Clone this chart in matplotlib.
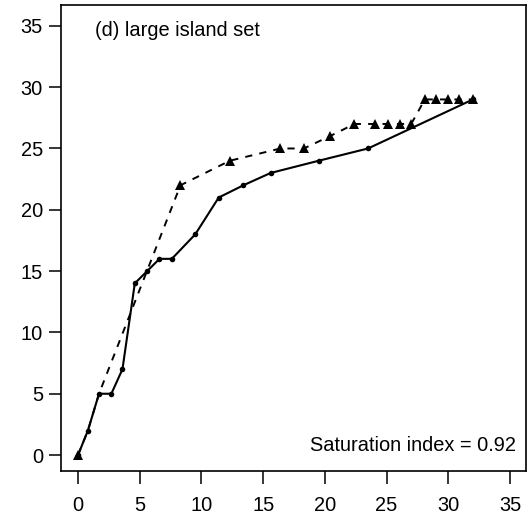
import matplotlib
matplotlib.use("Agg")
import matplotlib.pyplot as plt

plt.rcParams['font.family'] = ['Liberation Sans', 'DejaVu Sans']

# solid line, filled circles
obs_x = [0, 0.8, 1.7, 2.7, 3.6, 4.6, 5.6, 6.6, 7.6, 9.5, 11.4, 13.4, 15.6, 19.5, 23.5, 32.0]
obs_y = [0, 2, 5, 5, 7, 14, 15, 16, 16, 18, 21, 22, 23, 24, 25, 29]

# dashed line, filled triangles
est_x = [0, 0.8, 1.7, 8.3, 12.3, 16.4, 18.3, 20.4, 22.4, 24.1, 25.1, 26.1, 27.0,
         28.1, 29.0, 30.0, 30.9, 32.0]
est_y = [0, 2, 5, 22, 24, 25, 25, 26, 27, 27, 27, 27, 27, 29, 29, 29, 29, 29]

ticks = [0, 5, 10, 15, 20, 25, 30, 35]

fig = plt.figure(figsize=(5.31, 5.23), dpi=100)
ax = fig.add_axes([61 / 531, 52 / 523, 465 / 531, 466 / 523])

# the triangles under the first solid segments are hidden in the original
shown = [0] + list(range(3, len(est_x)))
ax.plot(est_x, est_y, color='black', lw=1.4, ls=(0, (3.7, 3.7)),
        marker='^', markersize=6.5, markeredgewidth=0, markevery=shown)
ax.plot(obs_x, obs_y, color='black', lw=1.5, marker='o', markersize=4,
        markeredgewidth=0)

ax.set_xlim(-1.38, 36.3)
ax.set_ylim(-1.3, 36.7)
ax.set_xticks(ticks)
ax.set_yticks(ticks)
ax.tick_params(direction='out', length=9, width=1.1, labelsize=14.4)
ax.tick_params(axis='x', pad=9)
ax.tick_params(axis='y', pad=4)
for s in ax.spines.values():
    s.set_linewidth(1.2)

ax.text(0.073, 0.945, '(d) large island set', transform=ax.transAxes,
        fontsize=14.4, ha='left', va='center')
ax.text(0.979, 0.055, 'Saturation index = 0.92', transform=ax.transAxes,
        fontsize=14.4, ha='right', va='center')

fig.savefig('out.png', dpi=100)
